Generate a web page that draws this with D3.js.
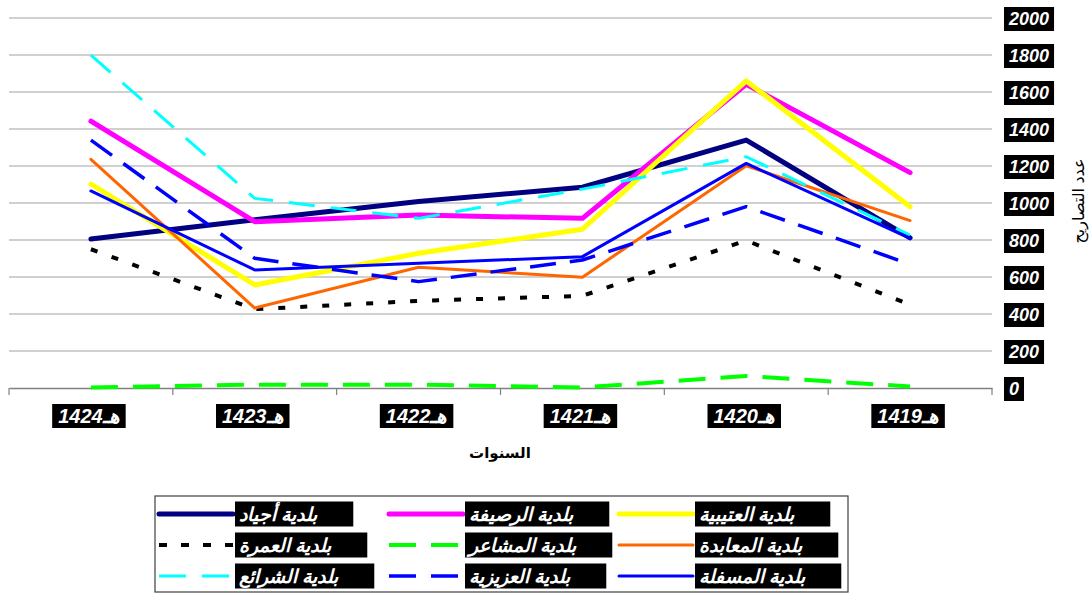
<!DOCTYPE html>
<html><head><meta charset="utf-8">
<script src="https://cdn.jsdelivr.net/npm/d3@7"></script>
<style>body{margin:0;background:#fff}svg{display:block}</style>
</head><body>
<svg id="c" width="1092" height="594"></svg>
<script>
const categories = ["1424","1423","1422","1421","1420","1419"];
const xTickLabels = ["1424هـ","1423هـ","1422هـ","1421هـ","1420هـ","1419هـ"];
const yTicks = [0,200,400,600,800,1000,1200,1400,1600,1800,2000];
const seriesNames = ["بلدية أجياد","بلدية الرصيفة","بلدية العتيبية","بلدية العمرة","بلدية المشاعر","بلدية المعابدة","بلدية الشرائع","بلدية العزيزية","بلدية المسفلة"];
const ajyad    = [805, 910, 1008, 1085, 1340, 812];
const rusaifa  = [1442, 899, 935, 917, 1642, 1164];
const otaibiya = [1102, 557, 728, 858, 1660, 980];
const omra     = [750, 426, 471, 498, 797, 450];
const mashaer  = [3, 18, 18, 3, 65, 8];
const maabda   = [1236, 432, 653, 599, 1201, 905];
const sharaie  = [1799, 1025, 917, 1075, 1250, 827];
const aziziya  = [1340, 701, 575, 692, 980, 669];
const misfala  = [1065, 638, 674, 710, 1214, 809];
const seriesValues = [ajyad, rusaifa, otaibiya, omra, mashaer, maabda, sharaie, aziziya, misfala];
const colors = ["#000080","#ff00ff","#ffff00","#000000","#00ff00","#ff6600","#00ffff","#0000ff","#0000ff"];
const widths = [5,5,5,4,4,3,3,3.5,3];
const dashes = [null,null,null,"7,15","27,15",null,"26,16","26,14",null];

const svg = d3.select("#c");
const x = d3.scaleBand().domain(categories).range([9, 992]);
const y = d3.scaleLinear().domain([0, 2000]).range([388, 18]);
const cx = c => x(c) + x.bandwidth() / 2;

// gridlines
svg.append("g").selectAll("line").data(yTicks.filter(t => t > 0)).join("line")
  .attr("x1", 9).attr("x2", 992).attr("y1", d => y(d)).attr("y2", d => y(d))
  .attr("stroke", "#c0c0c0").attr("stroke-width", 1.5);

// x axis
const xAxis = d3.axisBottom(x).tickSize(0).tickFormat(() => "");
const gx = svg.append("g").attr("transform", "translate(0,388)").call(xAxis);
gx.select(".domain").attr("stroke", "#808080").attr("stroke-width", 1.5);
const bounds = categories.map(c => x(c)).concat([992]);
svg.append("g").selectAll("line").data(bounds).join("line")
  .attr("x1", d => d).attr("x2", d => d).attr("y1", 388).attr("y2", 395)
  .attr("stroke", "#808080").attr("stroke-width", 1.2);

// lines
const line = d3.line().x((d, i) => cx(categories[i])).y(d => y(d));
seriesValues.forEach((vals, i) => {
  svg.append("path").datum(vals).attr("d", line)
    .attr("fill", "none").attr("stroke", colors[i]).attr("stroke-width", widths[i])
    .attr("stroke-dasharray", dashes[i]).attr("stroke-linejoin", "round")
    .attr("stroke-linecap", dashes[i] ? "butt" : "round");
});

// boxed label helper
function boxed(g, txt, xPos, yMid, opts) {
  const t = g.append("text").text(txt).attr("fill", "#fff")
    .attr("font-family", opts.family).attr("font-size", opts.size)
    .attr("font-weight", "bold").attr("font-style", "italic")
    .attr("dominant-baseline", "central").attr("y", yMid);
  const w = t.node().getComputedTextLength();
  const padL = opts.padL != null ? opts.padL : opts.pad;
  const padR = opts.padR != null ? opts.padR : opts.pad;
  const bw = w + padL + padR;
  const bx = opts.anchor === "middle" ? xPos - bw / 2 : xPos;
  g.insert("rect", "text").attr("x", bx).attr("y", yMid - opts.h / 2)
    .attr("width", bw).attr("height", opts.h).attr("fill", "#000");
  t.attr("x", bx + padL);
}

const gy = svg.append("g");
yTicks.forEach(t => {
  boxed(gy.append("g"), String(t), 1004, y(t) + 1, {family: "Arial, Liberation Sans, sans-serif", size: 18, pad: 5, h: 24});
});

const gxl = svg.append("g");
categories.forEach((c, i) => {
  boxed(gxl.append("g"), xTickLabels[i], cx(c) - 2, 416, {family: "Liberation Sans Narrow, Arial Narrow, Arial, sans-serif", size: 20, pad: 6, h: 24, anchor: "middle"});
});

// axis titles
svg.append("text").text("السنوات").attr("x", 500).attr("y", 452)
  .attr("text-anchor", "middle").attr("dominant-baseline", "central")
  .attr("font-family", "Arial, DejaVu Sans, sans-serif").attr("font-size", 15).attr("font-weight", "bold").attr("fill", "#000");
svg.append("text").text("عدد التصاريح")
  .attr("transform", "translate(1078,201) rotate(-90)")
  .attr("text-anchor", "middle").attr("dominant-baseline", "central")
  .attr("font-family", "Arial, DejaVu Sans, sans-serif").attr("font-size", 16).attr("fill", "#000");

// legend
svg.append("rect").attr("x", 155).attr("y", 496).attr("width", 693).attr("height", 96)
  .attr("fill", "#fff").attr("stroke", "#404040").attr("stroke-width", 1.2);
const colX = [159, 389, 619];
const rowY = [514, 545, 576];
const legendDash = [null,null,null,"8,14","27,15",null,"27,16","27,15",null];
seriesNames.forEach((name, i) => {
  const col = i % 3, row = Math.floor(i / 3);
  const x0 = colX[col], yy = rowY[row];
  svg.append("line").attr("x1", x0).attr("x2", x0 + 74).attr("y1", yy).attr("y2", yy)
    .attr("stroke", colors[i]).attr("stroke-width", widths[i])
    .attr("stroke-dasharray", legendDash[i]).attr("stroke-linecap", legendDash[i] ? "butt" : "round");
  boxed(svg.append("g"), name, x0 + 76, yy, {family: "Arial, DejaVu Sans, sans-serif", size: 19, padL: 4, padR: 36, h: 25});
});
</script>
</body></html>
